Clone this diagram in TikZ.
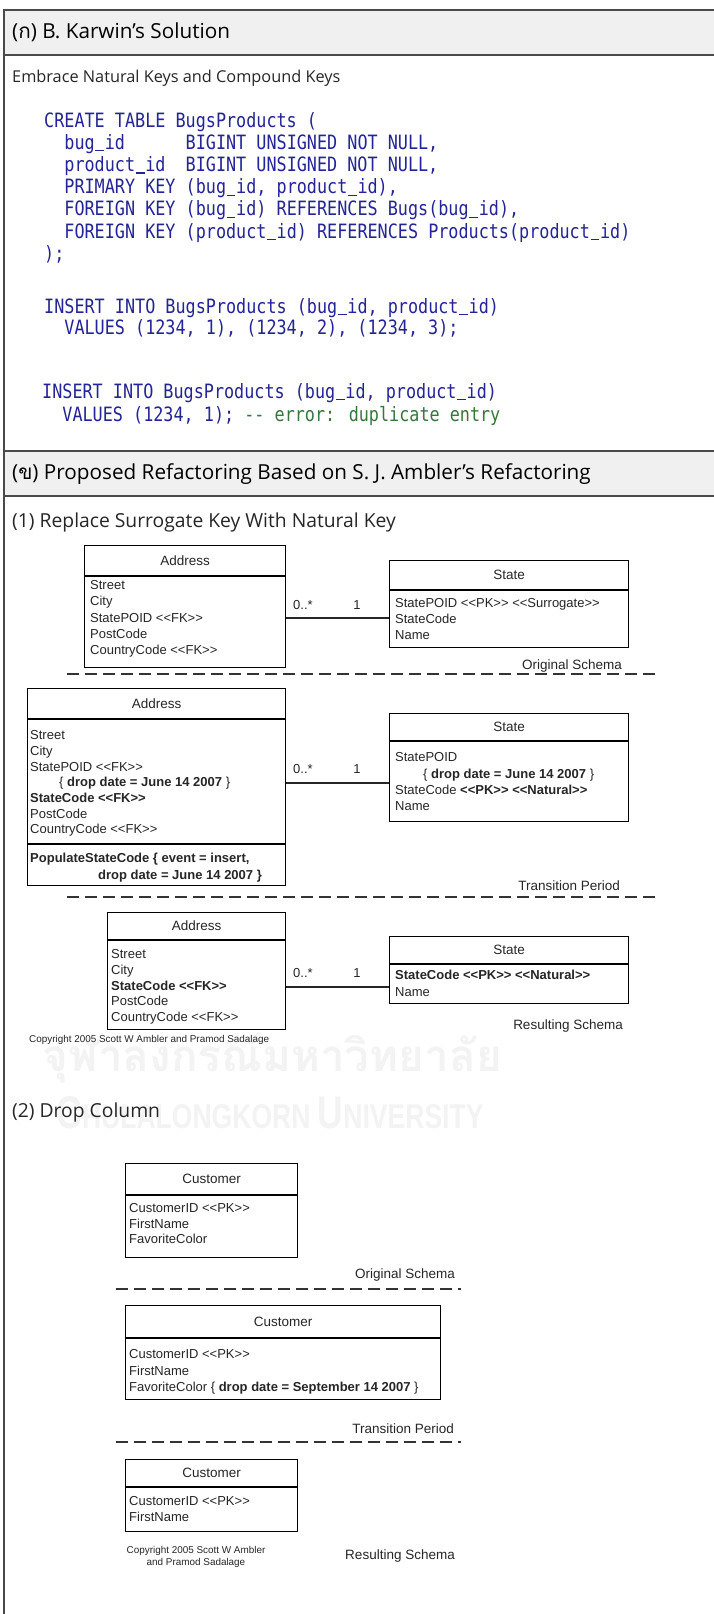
\documentclass[tikz,border=0pt]{standalone}
\usepackage{fontspec}
\usepackage{graphicx}
\setmainfont{Open Sans}
\newfontfamily\thaifont[Script=Thai]{Loma}
\newfontfamily\umlfont{Liberation Sans}
\newfontfamily\codefont[FakeStretch=0.85]{DejaVu Sans Mono}
\usetikzlibrary{calc}

\definecolor{rulegray}{HTML}{4A4A4A}
\definecolor{headfill}{HTML}{F0F0F0}
\definecolor{codeblue}{RGB}{36,36,150}
\definecolor{codegreen}{RGB}{56,118,62}
\definecolor{umltext}{HTML}{262626}
\definecolor{wmark}{HTML}{F3F3F3}

% guillemet-free << >> and a plain double hyphen
\newcommand\LL{<\kern0pt<}
\newcommand\GG{>\kern0pt>}
\newcommand\DD{-\kern0pt-}
% underscore sitting just below the baseline, one character cell wide
\newcommand\US{\makebox[\fontcharwd\font`\_][c]{\rule[-2.2pt]{0.85\fontcharwd\font`\_}{1.2pt}}}

\tikzset{
  frameline/.style={line width=2pt, draw=rulegray},
  headtext/.style={anchor=base west, inner sep=0pt, font=\fontsize{20.7}{24}\selectfont, text=black},
  bodytext/.style={anchor=base west, inner sep=0pt, font=\fontsize{19.3}{22}\selectfont, text=black!85},
  codeline/.style={anchor=base west, inner sep=0pt, font=\codefont\fontsize{19.75}{22}\selectfont, text=codeblue},
  classbox/.style={draw=black, line width=1.3pt, fill=white, anchor=north west, inner sep=0pt},
  compline/.style={draw=black, line width=1.3pt},
  attr/.style={anchor=base west, inner sep=0pt, font=\umlfont\fontsize{13}{15}\selectfont, text=umltext},
  ctitle/.style={anchor=center, inner sep=0pt, font=\umlfont\fontsize{13.5}{15}\selectfont, text=umltext},
  mult/.style={anchor=center, inner sep=0pt, font=\umlfont\fontsize{13}{15}\selectfont, text=umltext},
  phase/.style={anchor=base east, inner sep=0pt, font=\umlfont\fontsize{13.5}{15}\selectfont, text=umltext},
  assoc/.style={draw=black!85, line width=1.3pt},
  schemasep/.style={draw=black!80, line width=2pt, dash pattern=on 12pt off 6pt},
  copyr/.style={inner sep=0pt, font=\umlfont\fontsize{9.9}{12}\selectfont, text=umltext, align=center},
}

% class box: name, x, y, width, height, title band, title
\newcommand\umlclass[7]{%
  \node[classbox, minimum width=#4, minimum height=#5] (#1) at (#2,#3) {};
  \draw[compline] ([yshift=-#6]#1.north west) -- ([yshift=-#6]#1.north east);
  \node[ctitle] (#1-title) at ($(#1.north)+(0,#6/2)$) {#7};
}
% attribute lines: name, x, first baseline, step, list
\newcommand\attrs[5]{%
  \foreach \txt [count=\i from 0] in {#5} {\node[attr] (#1-\i) at (#2, #3+#4*\i) {\txt};}
}

\begin{document}
\begin{tikzpicture}[x=1pt,y=-1pt]
\useasboundingbox (0,0) rectangle (713,1614);
\fill[white] (0,0) rectangle (713,1614);

% ---------- watermark (behind everything) ----------
\node[inner sep=0pt, text=wmark, font=\thaifont\bfseries\fontsize{44}{44}\selectfont] (wm1) at (272,1058) {จุฬาลงกรณ์มหาวิทยาลัย};
\node[inner sep=0pt, text=wmark, font=\umlfont\bfseries] (wm2) at (270,1113)
  {\resizebox{427pt}{32pt}{{\fontsize{40}{40}\selectfont C}{\fontsize{30}{30}\selectfont HULALONGKORN }{\fontsize{40}{40}\selectfont U}{\fontsize{30}{30}\selectfont NIVERSITY}}};

% ---------- table frame ----------
\fill[headfill] (4,10) rectangle (716,55);
\fill[headfill] (4,451) rectangle (716,496);
\draw[frameline] (4,10) -- (716,10);
\draw[frameline] (4,55) -- (716,55);
\draw[frameline] (4,451) -- (716,451);
\draw[frameline] (4,496) -- (716,496);
\draw[frameline] (4,9) -- (4,1616);

\node[headtext] (hA) at (12,38.5) {({\thaifont ก}) B. Karwin’s Solution};
\node[headtext] (hB) at (12,479.5) {({\thaifont ข}) Proposed Refactoring Based on S. J. Ambler’s Refactoring};

\node[bodytext, font=\fontsize{16.3}{20}\selectfont] (tA) at (12,82) {Embrace Natural Keys and Compound Keys};
\node[bodytext] (tB) at (12,527.5) {(1) Replace Surrogate Key With Natural Key};
\node[bodytext] (tC) at (12,1117.5) {(2) Drop Column};

% ---------- SQL listing ----------
\node[codeline] (c1) at (44,127) {CREATE TABLE BugsProducts (};
\node[codeline] (c2) at (44,149.2) {~~bug\US id~~~~~~BIGINT UNSIGNED NOT NULL,};
\node[codeline] (c3) at (44,171.4) {~~product\US id~~BIGINT UNSIGNED NOT NULL,};
\node[codeline] (c4) at (44,193.6) {~~PRIMARY KEY (bug\US id, product\US id),};
\node[codeline] (c5) at (44,215.8) {~~FOREIGN KEY (bug\US id) REFERENCES Bugs(bug\US id),};
\node[codeline] (c6) at (44,238) {~~FOREIGN KEY (product\US id) REFERENCES Products(product\US id)};
\node[codeline] (c7) at (44,260.2) {);};
\node[codeline] (c8) at (44,313) {INSERT INTO BugsProducts (bug\US id, product\US id)};
\node[codeline] (c9) at (44,334) {~~VALUES (1234, 1), (1234, 2), (1234, 3);};
\node[codeline] (c10) at (42,398) {INSERT INTO BugsProducts (bug\US id, product\US id)};
\node[codeline] (c11) at (42,421) {~~VALUES (1234, 1); {\color{codegreen}\DD{} error: duplicate entry}};

% ---------- (1) Replace Surrogate Key With Natural Key ----------
% original schema
\umlclass{addrA}{84}{545}{201}{122}{31}{Address}
\attrs{addrA}{90}{589.7}{16.2}{Street, City, StatePOID \LL FK\GG, PostCode, CountryCode \LL FK\GG}
\umlclass{stateA}{389}{560}{239}{87}{30}{State}
\attrs{stateA}{395}{607.7}{16}{StatePOID \LL PK\GG\ \LL Surrogate\GG, StateCode, Name}
\coordinate (lkA) at (0,618);
\draw[assoc] (addrA.east |- lkA) -- (stateA.west |- lkA);
\node[mult] (mA1) at (303,605) {0..*};
\node[mult] (mA2) at (357,605) {1};
\node[phase] (pA) at (622,669) {Original Schema};
\coordinate (sA1) at (67,674);
\coordinate (sA2) at (658,674);
\draw[schemasep] (sA1) -- (sA2);

% transition period
\umlclass{addrB}{27}{688}{258}{197}{31}{Address}
\attrs{addrB}{30}{739.7}{15.7}{Street, City, StatePOID \LL FK\GG,
  {\hspace*{29pt}\{ \textbf{drop date = June 14 2007} \}},
  \textbf{StateCode \LL FK\GG}, PostCode, CountryCode \LL FK\GG}
\draw[compline] ([yshift=-156]addrB.north west) -- ([yshift=-156]addrB.north east);
\node[attr, font=\umlfont\bfseries\fontsize{13}{15}\selectfont] (opB1) at (30,862.7) {PopulateStateCode \{ event = insert,};
\node[attr, font=\umlfont\bfseries\fontsize{13}{15}\selectfont] (opB2) at (98,879.7) {drop date = June 14 2007 \}};
\umlclass{stateB}{389}{713}{239}{108}{28}{State}
\attrs{stateB}{395}{761.7}{16.3}{StatePOID,
  {\hspace*{28pt}\{ \textbf{drop date = June 14 2007} \}},
  StateCode \textbf{\LL PK\GG\ \LL Natural\GG}, Name}
\coordinate (lkB) at (0,783);
\draw[assoc] (addrB.east |- lkB) -- (stateB.west |- lkB);
\node[mult] (mB1) at (303,769) {0..*};
\node[mult] (mB2) at (357,769) {1};
\node[phase] (pB) at (620,890) {Transition Period};
\coordinate (sB1) at (67,897);
\coordinate (sB2) at (658,897);
\draw[schemasep] (sB1) -- (sB2);

% resulting schema
\umlclass{addrC}{107}{912}{178}{117}{28}{Address}
\attrs{addrC}{111}{958.7}{15.75}{Street, City, \textbf{StateCode \LL FK\GG}, PostCode, CountryCode \LL FK\GG}
\umlclass{stateC}{389}{936}{239}{67}{28}{State}
\attrs{stateC}{395}{979.7}{17}{\textbf{StateCode \LL PK\GG\ \LL Natural\GG}, Name}
\coordinate (lkC) at (0,987);
\draw[assoc] (addrC.east |- lkC) -- (stateC.west |- lkC);
\node[mult] (mC1) at (303,973) {0..*};
\node[mult] (mC2) at (357,973) {1};
\node[phase] (pC) at (623,1029) {Resulting Schema};
\node[copyr, anchor=base west] (cpA) at (29,1042) {Copyright 2005 Scott W Ambler and Pramod Sadalage};

% ---------- (2) Drop Column ----------
\umlclass{custA}{125}{1163}{172}{94}{32}{Customer}
\attrs{custA}{129}{1212.7}{15.5}{CustomerID \LL PK\GG, FirstName, FavoriteColor}
\node[phase] (pD) at (455,1278) {Original Schema};
\coordinate (sD1) at (116,1289);
\coordinate (sD2) at (461,1289);
\draw[schemasep] (sD1) -- (sD2);

\umlclass{custB}{125}{1305}{315}{94}{33}{Customer}
\attrs{custB}{129}{1358.7}{16.5}{CustomerID \LL PK\GG, FirstName,
  FavoriteColor \{ \textbf{drop date = September 14 2007} \}}
\node[phase] (pE) at (454,1433) {Transition Period};
\coordinate (sE1) at (116,1442);
\coordinate (sE2) at (461,1442);
\draw[schemasep] (sE1) -- (sE2);

\umlclass{custC}{125}{1459}{172}{72}{28}{Customer}
\attrs{custC}{129}{1505.7}{16}{CustomerID \LL PK\GG, FirstName}
\node[copyr] (cpB) at (196,1557) {Copyright 2005 Scott W Ambler\\and Pramod Sadalage};
\node[phase] (pF) at (455,1559) {Resulting Schema};
\end{tikzpicture}
\end{document}
